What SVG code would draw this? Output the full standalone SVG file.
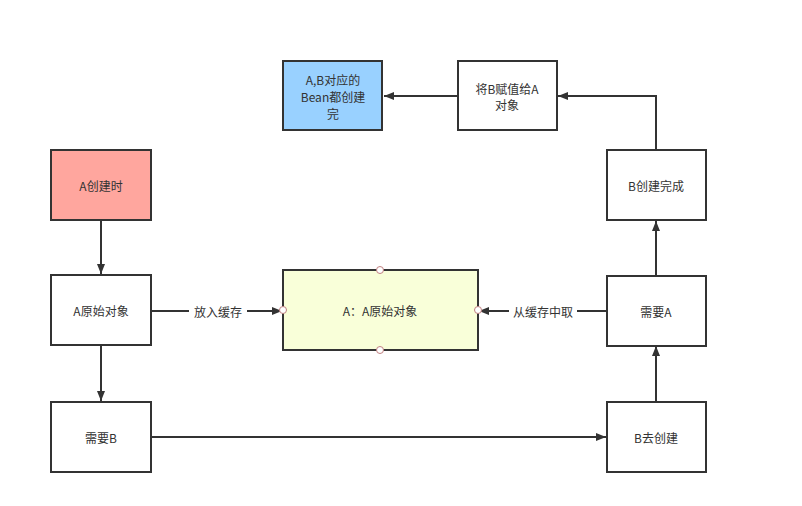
<svg xmlns="http://www.w3.org/2000/svg" width="802" height="506" viewBox="0 0 802 506">
<style>
.n{stroke:#333;stroke-width:2;fill:#fff}
.t{font-family:"Noto Sans CJK SC","Liberation Sans",sans-serif;font-size:12px;fill:#333;text-anchor:middle;dominant-baseline:central}
.e{stroke:#333;stroke-width:2;fill:none}
.lb{fill:#fff}
.h{fill:#fff;stroke:#c08080;stroke-width:1}
</style>
<defs>
<marker id="ar" viewBox="0 0 10 10" refX="10" refY="5" markerWidth="10" markerHeight="10" markerUnits="userSpaceOnUse" orient="auto">
<path d="M0,1 L10,5 L0,9 Z" fill="#333"/>
</marker>
</defs>
<rect width="802" height="506" fill="#fff"/>
<g id="edges">
<path class="e" d="M101,220 V274" marker-end="url(#ar)"/>
<path class="e" d="M101,345 V401" marker-end="url(#ar)"/>
<path class="e" d="M151,311 H282" marker-end="url(#ar)"/>
<path class="e" d="M151,437 H606" marker-end="url(#ar)"/>
<path class="e" d="M656,402 V346" marker-end="url(#ar)"/>
<path class="e" d="M607,311 H479" marker-end="url(#ar)"/>
<path class="e" d="M656,276 V221" marker-end="url(#ar)"/>
<path class="e" d="M656,150 V96 H558" marker-end="url(#ar)"/>
<path class="e" d="M458,96 H384" marker-end="url(#ar)"/>
<rect class="lb" x="189" y="303" width="58" height="16"/>
<text class="t" x="218" y="311">放入缓存</text>
<rect class="lb" x="509" y="303" width="68" height="16"/>
<text class="t" x="543" y="311">从缓存中取</text>
</g>
<g id="n1"><rect class="n" x="51" y="150" width="100" height="70" style="fill:#ffa69e"/><text class="t" x="101" y="185">A创建时</text></g>
<g id="n2"><rect class="n" x="51" y="275" width="100" height="70"/><text class="t" x="101" y="310">A原始对象</text></g>
<g id="n3"><rect class="n" x="51" y="402" width="100" height="70"/><text class="t" x="101" y="437">需要B</text></g>
<g id="n4"><rect class="n" x="283" y="270" width="195" height="80" style="fill:#f9ffd9"/><text class="t" x="380" y="310">A：A原始对象</text>
<circle class="h" cx="380" cy="270" r="3.5"/><circle class="h" cx="380" cy="350" r="3.5"/><circle class="h" cx="283" cy="310" r="3.5"/><circle class="h" cx="478" cy="310" r="3.5"/></g>
<g id="n5"><rect class="n" x="607" y="402" width="99" height="70"/><text class="t" x="656" y="437">B去创建</text></g>
<g id="n6"><rect class="n" x="607" y="276" width="99" height="70"/><text class="t" x="656" y="311">需要A</text></g>
<g id="n7"><rect class="n" x="607" y="150" width="99" height="70"/><text class="t" x="656" y="185">B创建完成</text></g>
<g id="n8"><rect class="n" x="458" y="61" width="99" height="69"/><text class="t" x="507" y="88">将B赋值给A</text><text class="t" x="507" y="104">对象</text></g>
<g id="n9"><rect class="n" x="283" y="61" width="99" height="69" style="fill:#99d1ff"/><text class="t" x="333" y="79">A,B对应的</text><text class="t" x="333" y="96">Bean都创建</text><text class="t" x="333" y="113">完</text></g>
</svg>
